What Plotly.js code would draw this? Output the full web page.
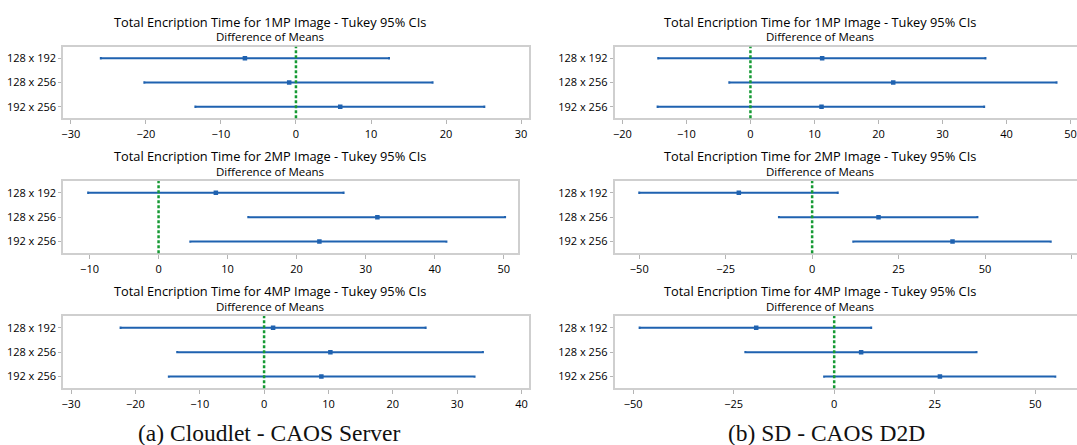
<!DOCTYPE html>
<html>
<head>
<meta charset="utf-8">
<script src="https://cdn.plot.ly/plotly-3.0.1.min.js"></script>
<style>
  html, body { margin: 0; padding: 0; background: #fff; }
  #chart { width: 1077px; height: 445px; }
</style>
</head>
<body>
<div id="chart"></div>
<script>
// ---------- data ----------
const comparisons = ["128 x 192", "128 x 256", "192 x 256"];

const panelTitles = [
  "Total Encription Time for 1MP Image - Tukey 95% CIs",
  "Total Encription Time for 2MP Image - Tukey 95% CIs",
  "Total Encription Time for 4MP Image - Tukey 95% CIs"
];
const subTitle = "Difference of Means";
const captions = ["(a) Cloudlet - CAOS Server", "(b) SD - CAOS D2D"];
const referenceLine = 0;

// Cloudlet - CAOS Server
const cloud1MP_lower  = [-26.0, -20.2, -13.4];
const cloud1MP_center = [-6.8, -0.9, 5.9];
const cloud1MP_upper  = [12.4, 18.2, 25.1];

const cloud2MP_lower  = [-10.2, 13.0, 4.6];
const cloud2MP_center = [8.3, 31.7, 23.3];
const cloud2MP_upper  = [26.8, 50.2, 41.7];

const cloud4MP_lower  = [-22.3, -13.5, -14.8];
const cloud4MP_center = [1.4, 10.3, 8.9];
const cloud4MP_upper  = [25.1, 34.0, 32.7];

// SD - CAOS D2D
const sd1MP_lower  = [-14.4, -3.3, -14.5];
const sd1MP_center = [11.2, 22.3, 11.1];
const sd1MP_upper  = [36.7, 47.8, 36.5];

const sd2MP_lower  = [-50.0, -9.6, 11.9];
const sd2MP_center = [-21.2, 19.2, 40.6];
const sd2MP_upper  = [7.4, 47.8, 69.0];

const sd4MP_lower  = [-48.4, -22.1, -2.5];
const sd4MP_center = [-19.4, 6.7, 26.3];
const sd4MP_upper  = [9.2, 35.4, 55.0];

// x ranges / tick steps per panel
const xRanges = [[-31.0, 31.0], [-13.8, 52.1], [-31.2, 41.1], [-21.2, 51.0], [-57.1, 76.6], [-54.6, 60.4]];
const xDticks = [10, 10, 10, 10, 25, 25];

// ---------- layout helpers ----------
const W = 1077, H = 445;
const fx = p => p / W;
const fy = p => (H - p) / H;

const panels = [
  {lo: cloud1MP_lower, c: cloud1MP_center, hi: cloud1MP_upper, px: [63.3, 528.6], py: [46.7, 118.3], mirrorY: true, tx: 269.5, row: 0},
  {lo: cloud2MP_lower, c: cloud2MP_center, hi: cloud2MP_upper, px: [63.3, 518.2], py: [181, 253.3], mirrorY: true, tx: 269.5, row: 1},
  {lo: cloud4MP_lower, c: cloud4MP_center, hi: cloud4MP_upper, px: [63.3, 528.6], py: [316, 388.3], mirrorY: true, tx: 269.5, row: 2},
  {lo: sd1MP_lower, c: sd1MP_center, hi: sd1MP_upper, px: [614.7, 1077], py: [46.7, 118.3], mirrorY: false, tx: 820, row: 0},
  {lo: sd2MP_lower, c: sd2MP_center, hi: sd2MP_upper, px: [614.7, 1077], py: [181, 253.3], mirrorY: false, tx: 820, row: 1},
  {lo: sd4MP_lower, c: sd4MP_center, hi: sd4MP_upper, px: [614.7, 1077], py: [316, 388.3], mirrorY: false, tx: 820, row: 2}
];

const BLUE = "#1f62b0";
const GREEN = "#169a34";
const FONT = "Open Sans, Noto Sans, sans-serif";

const traces = [];
const layout = {
  width: W, height: H,
  margin: {l: 0, r: 0, t: 0, b: 0},
  paper_bgcolor: "#fff", plot_bgcolor: "#fff",
  showlegend: false,
  font: {family: FONT, color: "#000"},
  shapes: [], annotations: []
};

panels.forEach((p, i) => {
  const n = i + 1;
  const xa = "x" + (n === 1 ? "" : n), ya = "y" + (n === 1 ? "" : n);
  traces.push({
    type: "scatter", mode: "markers",
    x: p.c, y: comparisons,
    xaxis: xa, yaxis: ya,
    marker: {color: BLUE, size: 4.5, symbol: "square"},
    error_x: {
      type: "data", symmetric: false,
      array: p.hi.map((v, k) => v - p.c[k]),
      arrayminus: p.c.map((v, k) => v - p.lo[k]),
      color: BLUE, thickness: 2, width: 1.2
    },
    hoverinfo: "x+y"
  });
  layout["xaxis" + (n === 1 ? "" : n)] = {
    domain: [fx(p.px[0]), fx(p.px[1])],
    anchor: ya, range: xRanges[i], dtick: xDticks[i], tick0: 0,
    showgrid: false, zeroline: false,
    showline: true, mirror: true, linecolor: "#cfcfcf", linewidth: 2,
    ticks: "outside", ticklen: 4, tickwidth: 1, tickcolor: "#b5b5b5",
    tickfont: {family: FONT, size: 11, color: "#000"}
  };
  layout["yaxis" + (n === 1 ? "" : n)] = {
    domain: [fy(p.py[1]), fy(p.py[0])],
    anchor: xa, type: "category",
    categoryorder: "array", categoryarray: comparisons,
    range: [2.48, -0.48],
    showgrid: false, zeroline: false,
    showline: true, mirror: p.mirrorY, linecolor: "#cfcfcf", linewidth: 2,
    ticks: "outside", ticklen: 3, tickwidth: 1, tickcolor: "#b5b5b5",
    tickfont: {family: FONT, size: 11, color: "#000"}
  };
  layout.shapes.push({
    type: "line", xref: xa, yref: ya + " domain",
    x0: referenceLine, x1: referenceLine, y0: 0, y1: 1,
    line: {color: GREEN, width: 2.5, dash: "3px,2px"}
  });
  layout.annotations.push({
    text: panelTitles[p.row], xref: "paper", yref: "paper",
    x: fx(p.tx), y: fy(p.py[0] - 25), xanchor: "center", yanchor: "middle",
    showarrow: false, font: {family: FONT, size: 12.8, color: "#000"}
  });
  layout.annotations.push({
    text: subTitle, xref: "paper", yref: "paper",
    x: fx(p.tx), y: fy(p.py[0] - 9.8), xanchor: "center", yanchor: "middle",
    showarrow: false, font: {family: FONT, size: 11.5, color: "#000"}
  });
});

layout.annotations.push({
  text: captions[0], xref: "paper", yref: "paper",
  x: fx(269.5), y: fy(433), xanchor: "center", yanchor: "middle",
  showarrow: false, font: {family: "Liberation Serif, Times New Roman, serif", size: 23.5, color: "#111"}
});
layout.annotations.push({
  text: captions[1], xref: "paper", yref: "paper",
  x: fx(826), y: fy(433), xanchor: "center", yanchor: "middle",
  showarrow: false, font: {family: "Liberation Serif, Times New Roman, serif", size: 23.5, color: "#111"}
});

Plotly.newPlot("chart", traces, layout, {displayModeBar: false, staticPlot: true});
</script>
</body>
</html>
